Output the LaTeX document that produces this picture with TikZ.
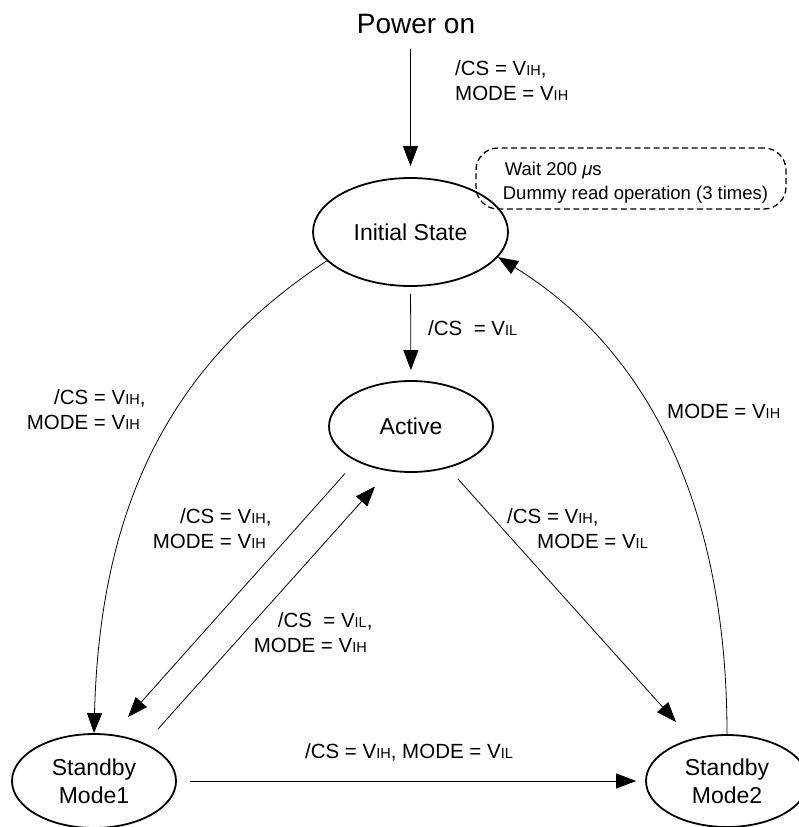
\documentclass[tikz,border=0pt]{standalone}
\usepackage{fontspec}
\setmainfont{Liberation Sans}
\usetikzlibrary{arrows.meta,calc,shapes.geometric}
\newcommand\sbs[1]{{\fontsize{14.5pt}{14.5pt}\selectfont #1}}
\begin{document}
\begin{tikzpicture}[x=1pt,y=-1pt,
  state/.style={ellipse, draw, line width=1.8pt, inner sep=0pt, align=center,
    font=\fontsize{23pt}{28pt}\selectfont},
  lbl/.style={inner sep=0pt, font=\fontsize{20.5pt}{25pt}\selectfont},
  arr/.style={-{Triangle[length=20pt,width=15pt]}, line width=0.8pt},
]
\path[use as bounding box] (0,0) rectangle (799,827);

% nodes
\node[inner sep=0pt, anchor=base, font=\fontsize{28pt}{30pt}\selectfont] (power) at (416,33) {Power on};
\node[state, minimum width=195pt, minimum height=108pt] (init) at (410.5,232) {Initial State};
\node[state, minimum width=164pt, minimum height=91pt] (active) at (411,426.5) {Active};
\node[state, minimum width=164pt, minimum height=94pt] (mode1) at (94,781) {Standby\\Mode1};
\node[state, minimum width=162pt, minimum height=92pt] (mode2) at (727,781) {Standby\\Mode2};

\node[draw, dash pattern=on 6pt off 3.5pt, line width=1.3pt, rounded corners=22pt,
  minimum width=310pt, minimum height=61pt, inner sep=0pt, align=left,
  font=\fontsize{18.5pt}{24pt}\selectfont] (note) at (631,178.5)
  {\rule{0pt}{21pt}\hspace*{11pt}Wait 200 {\itshape μ}s\\\hspace*{9pt}Dummy read operation (3 times)};

% labels (multi-line nodes: base = last line)
\node[lbl, align=left, anchor=base west] (lpow) at (455,100) {/CS = V\sbs{IH},\\MODE = V\sbs{IH}};
\node[lbl, anchor=base west] (lact) at (428,335) {/CS~~= V\sbs{IL}};
\node[lbl, anchor=base west] (lret) at (667,418) {MODE = V\sbs{IH}};
\node[lbl, align=right, anchor=base east] (lleft) at (140,429) {/CS = V\sbs{IH}\rlap{,}\\MODE = V\sbs{IH}};
\node[lbl, align=right, anchor=base east] (lam1) at (266,548) {/CS = V\sbs{IH}\rlap{,}\\MODE = V\sbs{IH}};
\node[lbl, align=right, anchor=base east] (lm1a) at (367,652) {/CS~~= V\sbs{IL}\rlap{,}\\MODE = V\sbs{IH}};
\node[lbl, align=left, anchor=base west] (lam2) at (507,548) {/CS = V\sbs{IH},\\\hspace*{30pt}MODE = V\sbs{IL}};
\node[lbl, anchor=base] (lm12) at (409,758) {/CS = V\sbs{IH}, MODE = V\sbs{IL}};

% connectors
\draw[arr, shorten <=16pt, shorten >=11pt] (power.south -| init.north) -- (init.north);
\draw[arr, shorten <=7pt, shorten >=10pt] (init.south) -- (active.north);
\draw[arr] ($(active)+(-66,47)$) -- ($(mode1)+(34,-64)$);
\draw[arr] ($(mode1)+(64,-52)$) -- ($(active)+(-36,60)$);
\draw[arr] ($(active)+(47,52.5)$) -- ($(mode2)+(-51,-59)$);
\draw[arr, shorten <=13pt, shorten >=9pt] (mode1.east) -- (mode2.west);
\draw[arr] (init.199) .. controls +(-152,100) and +(6,-234) .. (mode1.north);
\draw[arr] (mode2.north) .. controls +(0,-256) and +(130,80) .. (init.-16);
\end{tikzpicture}
\end{document}
